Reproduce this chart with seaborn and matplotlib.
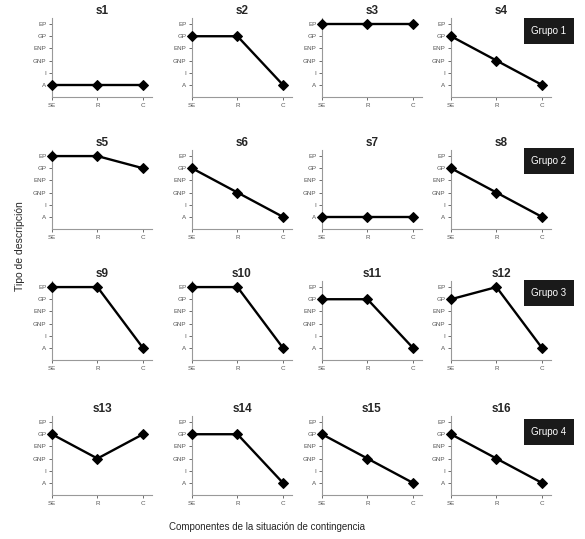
import pandas as pd
import matplotlib.pyplot as plt
import seaborn as sns

# Niveles de descripcion (abajo -> arriba) y componentes
niveles = ['A', 'I', 'GNP', 'ENP', 'GP', 'EP']
componentes = ['SE', 'R', 'C']
situaciones = ['s%d' % i for i in range(1, 17)]

# valor de cada situacion en SE, R, C (indice en niveles)
se = [0, 4, 5, 4, 5, 4, 0, 4, 5, 5, 4, 4, 4, 4, 4, 4]
r = [0, 4, 5, 2, 5, 2, 0, 2, 5, 5, 4, 5, 2, 4, 2, 2]
c = [0, 0, 5, 0, 4, 0, 0, 0, 0, 0, 0, 0, 4, 0, 0, 0]

grupos = ['Grupo 1', 'Grupo 2', 'Grupo 3', 'Grupo 4']

rows = []
for i, s in enumerate(situaciones):
    for comp, vals in zip(componentes, [se, r, c]):
        rows.append({'situacion': s, 'componente': comp, 'valor': vals[i]})
df = pd.DataFrame(rows)

sns.set_style("ticks")
plt.rcParams['font.family'] = ['Liberation Sans', 'DejaVu Sans']

fig, axes = plt.subplots(4, 4, figsize=(5.85, 5.39), dpi=100)

W, H = 585.0, 539.0
col_left = [52, 192, 322, 451]
row_bottom = [97, 229, 360, 495]
ax_w, ax_h = 100, 79

for i, s in enumerate(situaciones):
    ax = axes[i // 4][i % 4]
    ax.set_position([col_left[i % 4] / W, 1 - row_bottom[i // 4] / H, ax_w / W, ax_h / H])
    sub = df[df['situacion'] == s]
    sns.lineplot(data=sub, x='componente', y='valor', ax=ax, color='black',
                 marker='D', markersize=5, linewidth=1.7, markeredgecolor='black',
                 clip_on=False, zorder=5)
    ax.set_xlim(0, 2.2)
    ax.set_ylim(-1, 5.5)
    ax.set_yticks(range(len(niveles)))
    ax.set_yticklabels(niveles)
    ax.set_xticks(range(3))
    ax.set_xticklabels(componentes)
    ax.tick_params(labelsize=4.5, colors='#555555', length=2, width=0.6, pad=2)
    for sp in ['left', 'bottom']:
        ax.spines[sp].set_color('#999999')
        ax.spines[sp].set_linewidth(0.8)
    sns.despine(ax=ax)
    ax.set_xlabel('')
    ax.set_ylabel('')
    ax.set_title(s, fontsize=8.5, fontweight='bold', pad=3)

# cajas de grupo
grupo_y = [31, 161, 293, 432]
for g, yy in zip(grupos, grupo_y):
    fig.text(549 / W, 1 - yy / H, g, color='white', fontsize=7, ha='center', va='center',
             bbox=dict(boxstyle='square,pad=0.8', facecolor='#1a1a1a', edgecolor='none'))

fig.text(267 / W, 1 - 527 / H, 'Componentes de la situación de contingencia', fontsize=7,
         ha='center', va='center')
fig.text(20 / W, 1 - 246 / H, 'Tipo de descripción', fontsize=7.5, rotation=90,
         ha='center', va='center')

plt.savefig('out.png', dpi=100)
